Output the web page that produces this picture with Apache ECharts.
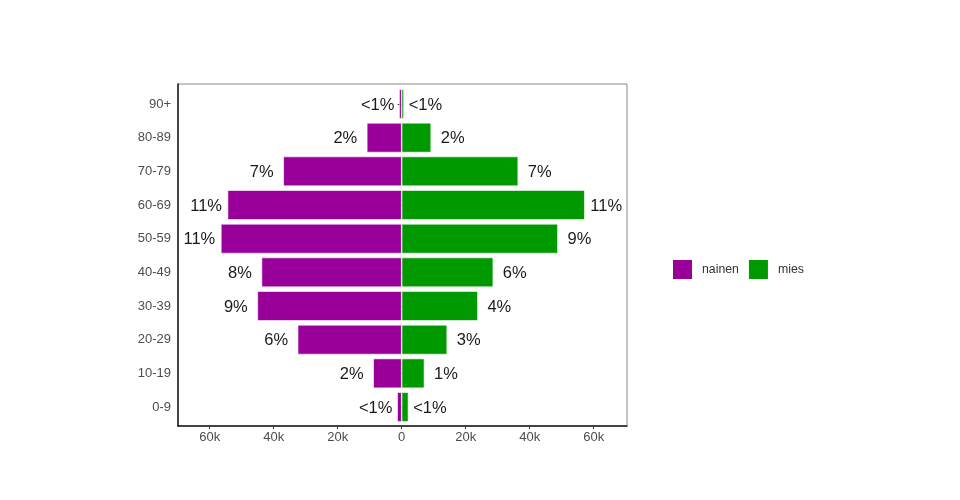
<!DOCTYPE html>
<html>
<head>
<meta charset="utf-8">
<script src="https://cdn.jsdelivr.net/npm/echarts@6/dist/echarts.min.js"></script>
<style>html,body{margin:0;padding:0;background:#fff}#c{width:960px;height:500px}</style>
</head>
<body>
<div id="c"></div>
<script>
const categories = ['0-9','10-19','20-29','30-39','40-49','50-59','60-69','70-79','80-89','90+'];
const female = [1400, 8900, 32500, 45100, 43800, 56500, 54400, 37000, 10900, 800];
const male = [2100, 7100, 14200, 23800, 28600, 48800, 57200, 36400, 9200, 700];
const femalePct = ['<1%','2%','6%','9%','8%','11%','11%','7%','2%','<1%'];
const malePct = ['<1%','1%','3%','4%','6%','9%','11%','7%','2%','<1%'];
const xTicks = [-60000, -40000, -20000, 0, 20000, 40000, 60000];
const xMin = -69900, xMax = 70400;

const FONT = '"Liberation Sans", Arial, sans-serif';
const chart = echarts.init(document.getElementById('c'), null, {renderer: 'canvas'});
const fmtK = v => v === 0 ? '0' : (Math.abs(v) / 1000) + 'k';

chart.setOption({
  animation: false,
  backgroundColor: '#fff',
  textStyle: {fontFamily: FONT},
  legend: {
    left: 671, top: 258, padding: 0,
    itemWidth: 21, itemHeight: 21, itemGap: 8,
    icon: 'rect',
    textStyle: {fontSize: 12.3, color: '#333', fontFamily: FONT, padding: [0, 0, 0, 4]},
    data: ['nainen', 'mies']
  },
  grid: [
    {left: 178, right: 333, top: 87.17, bottom: 76.13, containLabel: false},
    {left: 178, right: 333, top: 84, bottom: 74, show: true, borderColor: '#8a8a8a', borderWidth: 1, backgroundColor: 'transparent', containLabel: false}
  ],
  xAxis: [
    {type: 'value', gridIndex: 0, min: xMin, max: xMax, show: false, splitLine: {show: false}},
    {type: 'value', gridIndex: 1, min: xMin, max: xMax,
      axisLine: {show: true, onZero: false, lineStyle: {color: '#1a1a1a', width: 1.5}},
      axisTick: {show: true, length: 3, customValues: xTicks, lineStyle: {color: '#333'}},
      axisLabel: {show: true, customValues: xTicks, formatter: fmtK, color: '#4d4d4d', fontSize: 13, margin: 5, fontFamily: FONT},
      splitLine: {show: false}}
  ],
  yAxis: [
    {type: 'category', gridIndex: 0, data: categories,
      axisLine: {show: false},
      axisTick: {show: true, alignWithLabel: true, length: 4, lineStyle: {color: '#333'}},
      axisLabel: {color: '#4d4d4d', fontSize: 13, margin: 7, fontFamily: FONT},
      splitLine: {show: false}},
    {type: 'value', gridIndex: 1, min: 0, max: 1,
      axisLine: {show: true, onZero: false, lineStyle: {color: '#1a1a1a', width: 1.5}},
      axisTick: {show: false}, axisLabel: {show: false}, splitLine: {show: false}}
  ],
  series: [
    {name: 'nainen', type: 'bar', xAxisIndex: 0, yAxisIndex: 0,
      data: female.map(v => -v),
      barWidth: '88%', barGap: '-100%',
      itemStyle: {color: '#990099', borderColor: '#ffffff', borderWidth: 0.6},
      label: {show: true, position: 'left', distance: 21.5, align: 'center', offset: [0, 1],
        formatter: p => femalePct[p.dataIndex], fontSize: 16.5, color: '#1a1a1a', fontFamily: FONT}},
    {name: 'mies', type: 'bar', xAxisIndex: 0, yAxisIndex: 0,
      data: male.slice(),
      barWidth: '88%', barGap: '-100%',
      itemStyle: {color: '#009900', borderColor: '#ffffff', borderWidth: 0.6},
      label: {show: true, position: 'right', distance: 21.5, align: 'center', offset: [0, 1],
        formatter: p => malePct[p.dataIndex], fontSize: 16.5, color: '#1a1a1a', fontFamily: FONT}}
  ]
});
</script>
</body>
</html>
